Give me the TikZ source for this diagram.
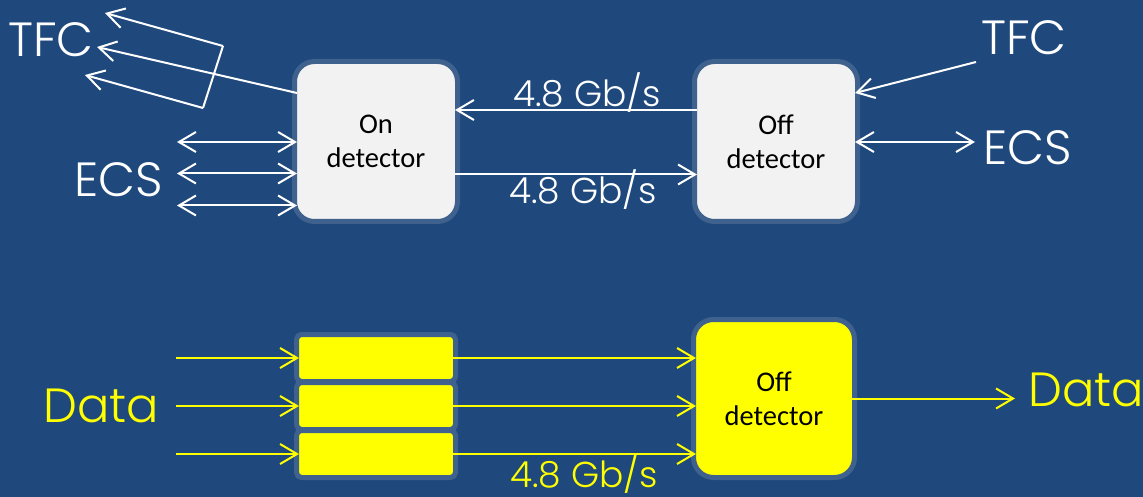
\documentclass[tikz,border=0pt]{standalone}
\usepackage{fontspec}
\setmainfont{Carlito}
\newfontfamily\gothic{Poppins Light}
\usetikzlibrary{arrows.meta,calc}
\definecolor{slide}{RGB}{31,73,125}
\definecolor{rim}{RGB}{62,97,141}
\definecolor{panel}{RGB}{242,242,242}
\definecolor{signal}{RGB}{255,255,0}
\begin{document}
\begin{tikzpicture}[x=1pt,y=-1pt,
  unit/.style={draw=rim, line width=5pt, rounded corners=20pt,
    minimum width=163pt, minimum height=160pt, outer sep=-2.5pt,
    inner sep=0pt, align=center, font=\fontsize{28.5}{34}\selectfont},
  lane/.style={draw=rim, line width=5pt, rounded corners=5pt, fill=signal,
    minimum width=159pt, minimum height=47pt, outer sep=-2.5pt},
  tip/.tip={Straight Barb[length=17pt,width=20pt]},
  link/.style={line width=2pt, -tip},
  duplex/.style={line width=2pt, tip-tip},
  big/.style={font=\gothic\fontsize{48}{48}\selectfont, inner sep=0pt},
  rate/.style={font=\gothic\fontsize{36}{36}\selectfont, inner sep=0pt, anchor=base},
]
% page and background
\useasboundingbox (0,0) rectangle (1143,497);
\fill[slide] (0,0) rectangle (1143,497);

% --- control path (top) ---
\node[unit, fill=panel] (on)  at (376,141.5) {On\\detector};
\node[unit, fill=panel] (off) at (776,141.5) {Off\\detector};

% --- data path (bottom) ---
\node[lane] (l1) at (376,358) {};
\node[lane] (l2) at (376,406) {};
\node[lane] (l3) at (376,454) {};
\node[unit, fill=signal, minimum width=161pt, minimum height=158pt] (offd) at (774,398.5) {Off\\detector};

% labels
\node[big, text=white] (tfcL) at (51,40) {TFC};
\node[big, text=white] (ecsL) at (119,180) {ECS};
\node[big, text=white] (tfcR) at (1024,37.5) {TFC};
\node[big, text=white] (ecsR) at (1028,148) {ECS};
\node[rate, text=white]  (r1) at (587,107) {4.8 Gb/s};
\node[rate, text=white]  (r2) at (583,204) {4.8 Gb/s};
\node[rate, text=signal] (r3) at (584,487.5) {4.8 Gb/s};
\node[big, text=signal, anchor=base] (dL) at (101,422) {Data};
\node[big, text=signal, anchor=base west] (dR) at (1028,406) {Data};

% free ends
\coordinate (tt) at (105,13);
\coordinate (tm) at (97,47);
\coordinate (tb) at (85,75);
\coordinate (ca) at (223,46);
\coordinate (cb) at (203,108);
\coordinate (e1) at (177,142);
\coordinate (e2) at (177,173.5);
\coordinate (e3) at (177,205.5);
\coordinate (tfcin) at (976,62);
\coordinate (ecsout) at (975,142);
\coordinate (d1) at (176,358);
\coordinate (d2) at (176,406);
\coordinate (d3) at (176,454);
\coordinate (dout) at (1015,398.5);

\begin{scope}[white]
  % links between the two boards
  \draw[link] ($(off.west)+(0,-31.5)$) -- ($(on.east)+(0,-31.5)$);
  \draw[link] ($(on.east)+(0,33)$) -- ($(off.west)+(0,33)$);
  % timing fan-out on the left
  \draw[link] ($(on.west)+(0,-48.5)$) -- (tm);
  \draw[link] (ca) -- (tt);
  \draw[link] (cb) -- (tb);
  \draw[line width=2pt] (ca) -- (cb);
  % control links on the left
  \draw[duplex] (e1) -- ($(on.west)+(0,0.5)$);
  \draw[duplex] (e2) -- ($(on.west)+(0,32)$);
  \draw[duplex] (e3) -- ($(on.west)+(0,64)$);
  % right side
  \draw[link] (tfcin) -- ($(off.east)+(0,-48.5)$);
  \draw[duplex] ($(off.east)+(0,0.5)$) -- (ecsout);
\end{scope}

\begin{scope}[signal]
  \draw[link] (d1) -- (l1.west);
  \draw[link] (d2) -- (l2.west);
  \draw[link] (d3) -- (l3.west);
  \draw[link] (l1.east) -- (l1.east -| offd.west);
  \draw[link] (l2.east) -- (l2.east -| offd.west);
  \draw[link] (l3.east) -- (l3.east -| offd.west);
  \draw[link] (offd.east) -- (dout);
\end{scope}
\end{tikzpicture}
\end{document}
